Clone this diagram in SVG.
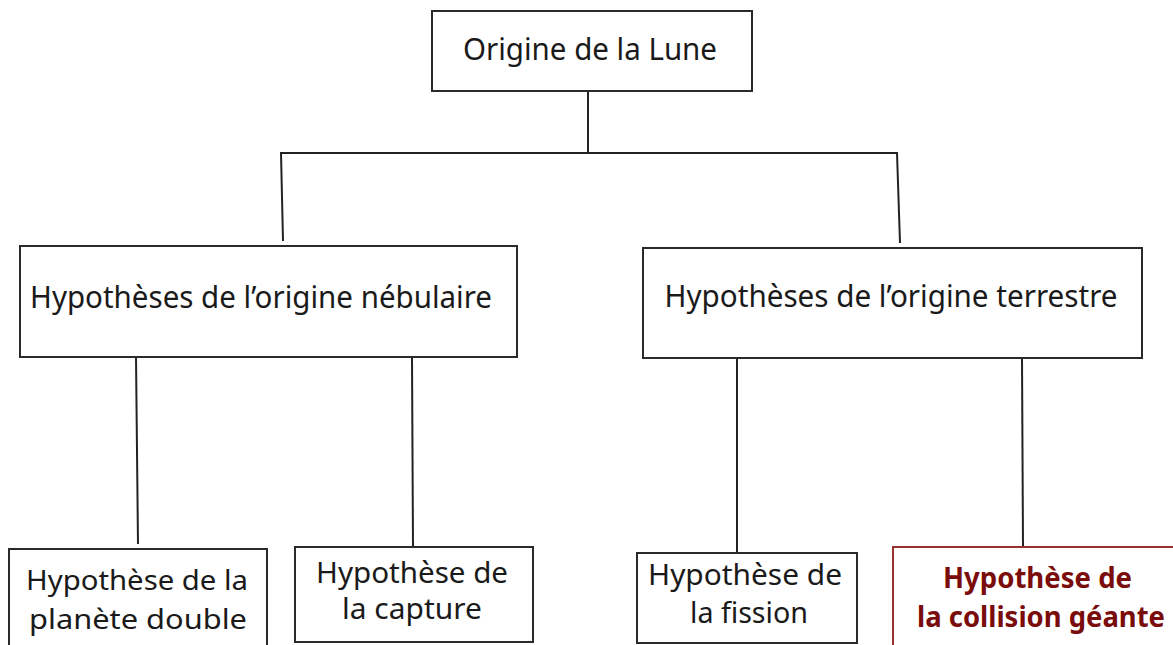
<svg xmlns="http://www.w3.org/2000/svg" width="1173" height="645" viewBox="0 0 1173 645">
<style>
.box{fill:#fff;stroke:#2a2a2a;stroke-width:2}
.red{fill:#fff;stroke:#9a3030;stroke-width:2}
.t{font-family:"Noto Sans","Open Sans","Liberation Sans",sans-serif;font-size:31px;fill:#1a1a1a;text-anchor:middle}
.s{font-size:29px}
.tr{font-family:"Noto Sans","Open Sans","Liberation Sans",sans-serif;font-size:28px;font-weight:bold;fill:#7a0c0c;text-anchor:middle}
.c{stroke:#222;stroke-width:2;fill:none}
</style>
<rect width="1173" height="645" fill="#fff"/>
<g id="connectors">
<line class="c" x1="588" y1="91" x2="588" y2="153"/>
<line class="c" x1="280" y1="153" x2="898" y2="153"/>
<line class="c" x1="281" y1="153" x2="283" y2="241"/>
<line class="c" x1="897" y1="153" x2="900" y2="243"/>
<line class="c" x1="136" y1="357" x2="138" y2="544"/>
<line class="c" x1="412" y1="357" x2="413" y2="547"/>
<line class="c" x1="737" y1="358" x2="737" y2="553"/>
<line class="c" x1="1022" y1="358" x2="1023" y2="547"/>
</g>
<g id="n-origine">
<rect class="box" x="432" y="11" width="320" height="80"/>
<text class="t" x="590" y="60" textLength="254" lengthAdjust="spacingAndGlyphs">Origine de la Lune</text>
</g>
<g id="n-nebulaire">
<rect class="box" x="20" y="246" width="497" height="111"/>
<text class="t" x="261" y="308" textLength="462" lengthAdjust="spacingAndGlyphs">Hypothèses de l’origine nébulaire</text>
</g>
<g id="n-terrestre">
<rect class="box" x="643" y="248" width="499" height="110"/>
<text class="t" x="891" y="307" textLength="453" lengthAdjust="spacingAndGlyphs">Hypothèses de l’origine terrestre</text>
</g>
<g id="n-double">
<rect class="box" x="9" y="549" width="258" height="110"/>
<text class="t s" x="137" y="590" style="font-size:28px" textLength="222" lengthAdjust="spacingAndGlyphs">Hypothèse de la</text>
<text class="t s" x="138" y="629" style="font-size:28px" textLength="218" lengthAdjust="spacingAndGlyphs">planète double</text>
</g>
<g id="n-capture">
<rect class="box" x="295" y="547" width="238" height="95"/>
<text class="t s" x="412" y="583" textLength="192" lengthAdjust="spacingAndGlyphs">Hypothèse de</text>
<text class="t s" x="412" y="619" textLength="140" lengthAdjust="spacingAndGlyphs">la capture</text>
</g>
<g id="n-fission">
<rect class="box" x="637" y="553" width="220" height="90"/>
<text class="t s" x="745" y="585" textLength="194" lengthAdjust="spacingAndGlyphs">Hypothèse de</text>
<text class="t s" x="749" y="623" textLength="118" lengthAdjust="spacingAndGlyphs">la fission</text>
</g>
<g id="n-collision">
<rect class="red" x="893" y="547" width="300" height="120"/>
<text class="tr" x="1037.5" y="588" textLength="189" lengthAdjust="spacingAndGlyphs">Hypothèse de</text>
<text class="tr" x="1041" y="627" textLength="248" lengthAdjust="spacingAndGlyphs">la collision géante</text>
</g>
</svg>
